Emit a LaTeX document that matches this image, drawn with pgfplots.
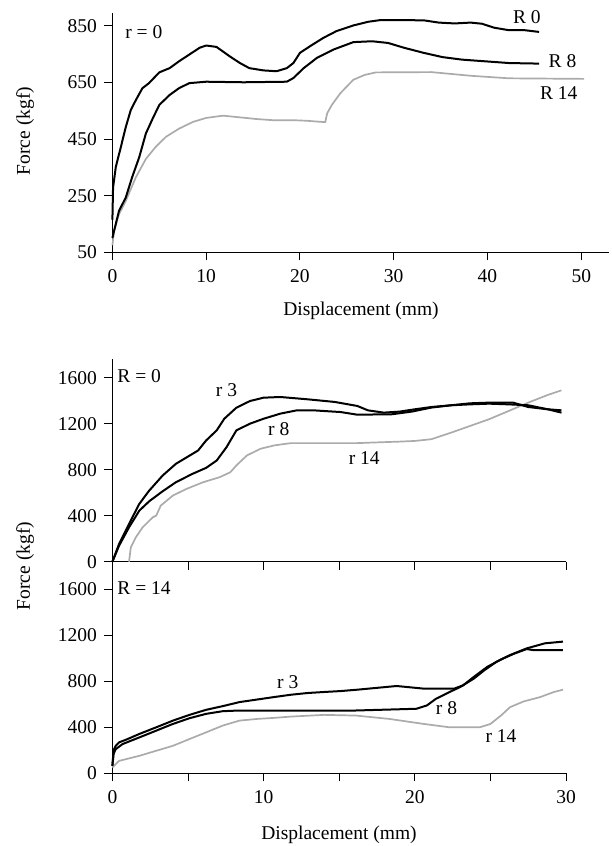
\documentclass[border=0pt]{standalone}
\usepackage{pgfplots}
\pgfplotsset{compat=1.18}
\usepackage{fontspec}
\setmainfont{Liberation Serif}
\definecolor{curvegray}{HTML}{ABABAB}

\tikzset{lbl/.style={font=\fontsize{19.5}{19.5}\selectfont}}
\pgfplotsset{
  panel/.style={
    scale only axis,
    axis lines=left, axis line style={-, line width=1pt},
    tick align=outside, tick style={black, line width=1pt}, major tick length=8pt,
    tick label style={font=\fontsize{19.5}{19.5}\selectfont},
    xticklabel style={yshift=-6pt},
    yticklabel style={xshift=-4pt},
    /pgf/number format/assume math mode=true,
    /pgf/number format/1000 sep={},
    clip=false,
  },
  blk/.style={black, line width=2pt, line join=round},
  gry/.style={curvegray, line width=1.7pt, line join=round},
}

\begin{document}
\begin{tikzpicture}
\useasboundingbox (0,0) rectangle (611pt,846pt);

% top panel: r = 0
\begin{axis}[panel, at={(112.4pt,593.7pt)}, anchor=south west,
  width=497pt, height=239.6pt, xmin=0, xmax=53, ymin=50, ymax=897,
  xtick={0,10,...,50}, ytick={50,250,...,850}]
\addplot[gry] coordinates {(0,75)(0.2,130)(0.7,184)(1.43,232)(2.5,315)(3.57,380)(4.6,422)(5.7,458)(7.1,487)(8.6,511)(10,525)(11.8,533)(13.6,527)(15.4,521)(17.1,517)(19.3,517)(20.7,515)(22.7,510)(22.9,541)(23.4,571)(24.3,612)(25.7,660)(26.9,677)(28.1,686)(34,687)(38.2,674)(42.3,665)(50.3,663)};
\addplot[blk] coordinates {(0,101)(0.7,196)(1.43,244)(2.1,315)(2.86,386)(3.57,470)(4.3,523)(5,571)(6.1,606)(7.1,630)(8.2,648)(10,653)(14,651)(18.6,653)(19.3,666)(20.4,701)(21.8,737)(23.6,767)(25.7,793)(27.7,796)(29.4,790)(31.1,773)(33.2,755)(35.2,740)(37.3,731)(39.8,725)(42.3,719)(45.5,717)};
\addplot[blk] coordinates {(0,165)(0.07,279)(0.36,351)(0.9,422)(1.43,493)(1.96,553)(2.5,588)(3.2,630)(3.9,648)(5,686)(6.1,701)(7.1,725)(8.2,749)(9.3,773)(10,781)(11.1,776)(12.5,743)(13.6,719)(14.6,701)(16.1,693)(17.5,690)(18.6,701)(19.3,719)(20,755)(21.1,779)(22.5,808)(23.9,832)(25.7,852)(27.3,865)(28.6,871)(29.8,871)(33.2,870)(34.8,862)(36.5,859)(38.2,862)(39.4,858)(40.7,844)(42.3,835)(44,835)(45.5,829)};
\node[lbl, anchor=west] at (axis cs:1.0,830) {r = 0};
\node[lbl] at (axis cs:44.2,882) {R 0};
\node[lbl] at (axis cs:48,725) {R 8};
\node[lbl] at (axis cs:47.6,612) {R 14};
\end{axis}

% middle panel: R = 0
\begin{axis}[panel, at={(112.4pt,284.3pt)}, anchor=south west,
  width=453.6pt, height=203pt, xmin=0, xmax=30, ymin=0, ymax=1765,
  xtick={0,5,...,30}, xticklabels={}, ytick={0,400,...,1600}]
\addplot[gry] coordinates {(1.1,0)(1.22,125)(1.55,212)(2,299)(2.67,386)(2.9,401)(3.2,488)(4,575)(4.9,633)(6,691)(7.1,735)(7.8,778)(8.2,837)(8.9,924)(9.8,982)(10.7,1011)(11.8,1031)(14,1031)(16.2,1031)(17.2,1036)(19,1044)(20,1050)(21.1,1065)(22.4,1122)(23.65,1180)(24.9,1238)(26.2,1310)(27.5,1383)(28.8,1450)(29.7,1490)};
\addplot[blk] coordinates {(0,0)(0.44,139)(1.1,299)(1.78,444)(2.44,526)(3.33,613)(4.2,691)(5.3,764)(6.2,816)(6.9,880)(7.55,996)(8.2,1142)(9.1,1200)(10,1243)(11.1,1287)(12.2,1316)(13.3,1316)(15.1,1301)(16.2,1278)(18.5,1282)(19.8,1305)(21.1,1340)(22.4,1360)(23.65,1377)(24.9,1383)(26.5,1383)(27.5,1345)(28.8,1325)(29.7,1316)};
\addplot[blk] coordinates {(0,0)(0.44,154)(1.1,328)(1.78,503)(2.44,619)(3.33,750)(4.2,851)(5.3,938)(5.67,967)(6.2,1054)(6.9,1142)(7.4,1243)(8.2,1339)(9.1,1397)(10,1426)(11.1,1432)(12.9,1412)(14.7,1389)(16.2,1354)(16.9,1316)(17.95,1296)(19,1305)(20,1325)(21.1,1345)(22.4,1360)(23.65,1368)(24.9,1374)(26.2,1368)(27.5,1360)(28.8,1325)(29.7,1296)};
\node[lbl, anchor=west] at (axis cs:0.1,1614) {R = 0};
\node[lbl] at (axis cs:7.55,1490) {r 3};
\node[lbl] at (axis cs:11,1156) {r 8};
\node[lbl] at (axis cs:16.66,905) {r 14};
\end{axis}

% bottom panel: R = 14
\begin{axis}[panel, at={(112.4pt,72.7pt)}, anchor=south west,
  width=453.6pt, height=203pt, xmin=0, xmax=30, ymin=0, ymax=1765,
  xtick={0,5,...,30}, xticklabels={0,,10,,20,,30}, ytick={0,400,...,1600}]
\addplot[gry] coordinates {(0,50)(0.44,108)(1.78,152)(2.9,196)(4,239)(5.1,298)(6.2,356)(7.3,415)(8.4,458)(9.6,473)(10.7,482)(11.8,493)(14,508)(16.1,502)(18.3,473)(20.6,429)(22.3,400)(24.3,400)(25,429)(25.7,502)(26.3,575)(27.2,625)(28.3,663)(29.2,707)(29.8,727)};
\addplot[blk] coordinates {(0,67)(0.08,170)(0.22,210)(0.67,254)(1.78,312)(2.9,371)(4,429)(5.1,479)(6.2,517)(7.3,540)(8.4,546)(16.1,546)(20.1,561)(20.8,590)(21.4,648)(22.3,707)(23,750)(23.9,823)(24.6,896)(25.4,969)(26.3,1028)(27.4,1086)(28.6,1130)(29.8,1145)};
\addplot[blk] coordinates {(0,64)(0.08,200)(0.22,239)(0.44,269)(0.9,292)(1.78,342)(2.9,400)(4,458)(5.1,508)(6.2,552)(7.3,584)(8.4,619)(9.6,642)(10.7,663)(11.8,683)(12.9,698)(14,707)(15.1,715)(16.2,727)(18.8,759)(20.6,736)(22.6,736)(23.2,765)(23.9,838)(24.8,926)(25.7,990)(26.6,1042)(27.4,1080)(27.8,1072)(29.8,1072)};
\node[lbl, anchor=west] at (axis cs:0.1,1609) {R = 14};
\node[lbl] at (axis cs:11.6,794) {r 3};
\node[lbl] at (axis cs:22.1,566) {r 8};
\node[lbl] at (axis cs:25.7,327) {r 14};
\end{axis}

% axis titles
\node[lbl] at (361pt,535pt) {Displacement (mm)};
\node[lbl] at (339pt,11pt) {Displacement (mm)};
\node[lbl, rotate=90] at (25pt,715pt) {Force (kgf)};
\node[lbl, rotate=90] at (25pt,280pt) {Force (kgf)};
\end{tikzpicture}
\end{document}
